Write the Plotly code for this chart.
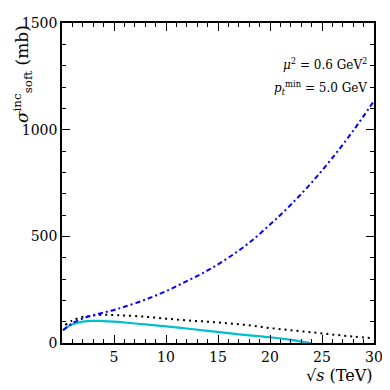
import plotly.graph_objects as go

# sqrt(s) in TeV
x_blue = [0.1, 1, 2, 3, 4, 5, 6, 8, 10, 12, 14, 16, 18, 20, 22, 24, 26, 28, 30]
y_blue = [60, 92, 115, 130, 143, 155, 170, 203, 243, 290, 340, 400, 470, 555, 648, 752, 868, 995, 1135]

x_dot = [0.3, 1, 2, 3, 4, 5, 6, 8, 10, 12, 14, 16, 18, 20, 22, 24, 26, 28, 30]
y_dot = [85, 105, 122, 129, 132, 131, 129, 123, 114, 106, 100, 92, 83, 70, 60, 50, 40, 30, 22]

x_cyan = [0.1, 0.5, 1, 2, 3, 4, 5, 6, 8, 10, 12, 14, 16, 18, 20, 22, 23.9]
y_cyan = [60, 75, 88, 100, 104, 103, 100, 96, 87, 78, 68, 57, 46, 36, 27, 15, 0]

xticks = [5, 10, 15, 20, 25, 30]
yticks = [0, 500, 1000, 1500]

font = "DejaVu Serif"

fig = go.Figure()
fig.add_scatter(x=x_cyan, y=y_cyan, mode='lines', line=dict(color='rgb(0,190,205)', width=2.2), line_shape='spline')
fig.add_scatter(x=x_dot, y=y_dot, mode='lines', line=dict(color='black', width=2, dash='2px,4px'), line_shape='spline')
fig.add_scatter(x=x_blue, y=y_blue, mode='lines', line=dict(color='rgb(0,0,255)', width=2, dash='5px,3px,2px,3px'), line_shape='spline')

axis = dict(showgrid=False, zeroline=False, showline=True, linecolor='black', linewidth=1.5,
            mirror='allticks', ticks='inside', ticklen=8, tickwidth=1, tickcolor='black',
            tickfont=dict(family=font, size=14, color='black'))
fig.update_xaxes(range=[0, 30], tickvals=xticks, minor=dict(dtick=1, ticklen=4, ticks='inside', tickcolor='black'), **axis)
fig.update_yaxes(range=[0, 1500], tickvals=yticks, minor=dict(dtick=100, ticklen=4, ticks='inside', tickcolor='black'), **axis)

fig.add_annotation(text="<i>σ</i><sup>inc</sup><sub>soft</sub> (mb)", xref='paper', yref='paper',
                   x=-0.128, y=1.0, xanchor='center', yanchor='top', textangle=-90, showarrow=False,
                   font=dict(family=font, size=17, color='black'))
fig.add_annotation(text="√<i>s</i> (TeV)", xref='paper', yref='paper', x=1.0, y=-0.1,
                   xanchor='right', yanchor='middle', showarrow=False,
                   font=dict(family=font, size=16, color='black'))
fig.add_annotation(text="<i>μ</i><sup>2</sup> = 0.6 GeV<sup>2</sup>", xref='paper', yref='paper',
                   x=0.984, y=0.872, xanchor='right', yanchor='middle', showarrow=False,
                   font=dict(family=font, size=12, color='black'))
fig.add_annotation(text="<i>p</i><sub><i>t</i></sub><sup>min</sup> = 5.0 GeV", xref='paper', yref='paper',
                   x=0.984, y=0.796, xanchor='right', yanchor='middle', showarrow=False,
                   font=dict(family=font, size=12, color='black'))

# page body adds an 8px offset, so the figure is sized to fit the window
fig.update_layout(width=382, height=382, margin=dict(l=54, r=15, t=7, b=47),
                  paper_bgcolor='white', plot_bgcolor='white', showlegend=False)
fig.write_html("out.html")
